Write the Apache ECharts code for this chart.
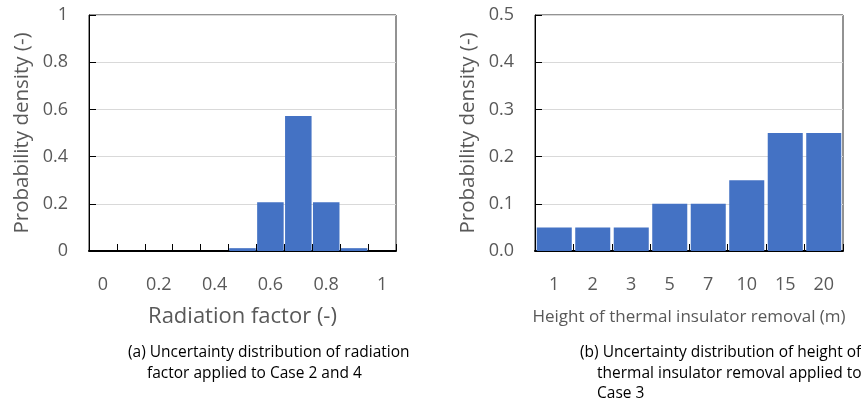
<!DOCTYPE html>
<html style="height: 100%">
<head>
    <meta charset="utf-8">
</head>
<body style="height: 100%; margin: 0; background: #fff">
<div id="container" style="width: 861px; height: 406px"></div>
<script type="text/javascript" src="https://cdn.jsdelivr.net/npm/echarts@6/dist/echarts.min.js"></script>
<script type="text/javascript">
    // (a) radiation factor histogram
    var factorBins = ['0', '0.1', '0.2', '0.3', '0.4', '0.5', '0.6', '0.7', '0.8', '0.9', '1'];
    var factorDensity = [0, 0, 0, 0, 0, 0.012, 0.207, 0.572, 0.207, 0.012, 0];

    // (b) height of thermal insulator removal
    var heightBins = ['1', '2', '3', '5', '7', '10', '15', '20'];
    var heightDensity = [0.05, 0.05, 0.05, 0.1, 0.1, 0.15, 0.25, 0.25];

    var FONT = 'Open Sans';
    var GREY = '#595959';

    var dom = document.getElementById("container");
    var myChart = echarts.init(dom);

    function xAxisOf(idx, cats, name, nameSize, nameGap) {
        return {
            gridIndex: idx,
            type: 'category',
            data: cats,
            name: name,
            nameLocation: 'middle',
            nameGap: nameGap,
            nameTextStyle: {color: GREY, fontFamily: FONT, fontSize: nameSize},
            axisLine: {lineStyle: {color: '#000', width: 2}},
            axisTick: {show: true, inside: true, interval: 0, length: 7, lineStyle: {color: '#000'}},
            axisLabel: {
                interval: idx == 0 ? 1 : 0,
                margin: 25,
                color: GREY,
                fontFamily: FONT,
                fontSize: 18
            }
        };
    }

    function yAxisOf(idx, max, step, fmt) {
        return {
            gridIndex: idx,
            type: 'value',
            min: 0,
            max: max,
            interval: step,
            name: 'Probability density (-)',
            nameLocation: 'middle',
            nameGap: 56,
            nameTextStyle: {color: GREY, fontFamily: FONT, fontSize: 20.5},
            axisLine: {show: true, lineStyle: {color: '#000'}},
            axisTick: {show: true, inside: true, length: 7, lineStyle: {color: '#000'}},
            splitLine: {show: true, lineStyle: {color: '#d9d9d9'}},
            axisLabel: {
                margin: 21,
                color: GREY,
                fontFamily: FONT,
                fontSize: 18,
                formatter: fmt
            }
        };
    }

    var option = {
        animation: false,
        grid: [
            {left: 89, top: 15, width: 307, height: 236, show: true, borderColor: '#262626', borderWidth: 1},
            {left: 535, top: 15, width: 308, height: 236, show: true, borderColor: '#262626', borderWidth: 1}
        ],
        xAxis: [
            xAxisOf(0, factorBins, 'Radiation factor (-)', 22, 55),
            xAxisOf(1, heightBins, 'Height of thermal insulator removal (m)', 17, 58)
        ],
        yAxis: [
            yAxisOf(0, 1, 0.2, function (v) { return String(+v.toFixed(1)); }),
            yAxisOf(1, 0.5, 0.1, function (v) { return v.toFixed(1); })
        ],
        series: [
            {
                type: 'bar',
                xAxisIndex: 0,
                yAxisIndex: 0,
                data: factorDensity,
                barCategoryGap: '5%',
                itemStyle: {color: '#4472c4'}
            },
            {
                type: 'bar',
                xAxisIndex: 1,
                yAxisIndex: 1,
                data: heightDensity,
                barCategoryGap: '9%',
                itemStyle: {color: '#4472c4'}
            }
        ],
        graphic: [
            {type: 'text', left: 128, top: 345, style: {text: '(a) Uncertainty distribution of radiation', fill: '#000', font: '15.5px "Open Sans"'}},
            {type: 'text', left: 147, top: 366, style: {text: 'factor applied to Case 2 and 4', fill: '#000', font: '15.5px "Open Sans"'}},
            {type: 'text', left: 580, top: 345, style: {text: '(b) Uncertainty distribution of height of', fill: '#000', font: '15.5px "Open Sans"'}},
            {type: 'text', left: 597, top: 366, style: {text: 'thermal insulator removal applied to', fill: '#000', font: '15.5px "Open Sans"'}},
            {type: 'text', left: 597, top: 386, style: {text: 'Case 3', fill: '#000', font: '15.5px "Open Sans"'}}
        ]
    };

    myChart.setOption(option);
</script>
</body>
</html>
